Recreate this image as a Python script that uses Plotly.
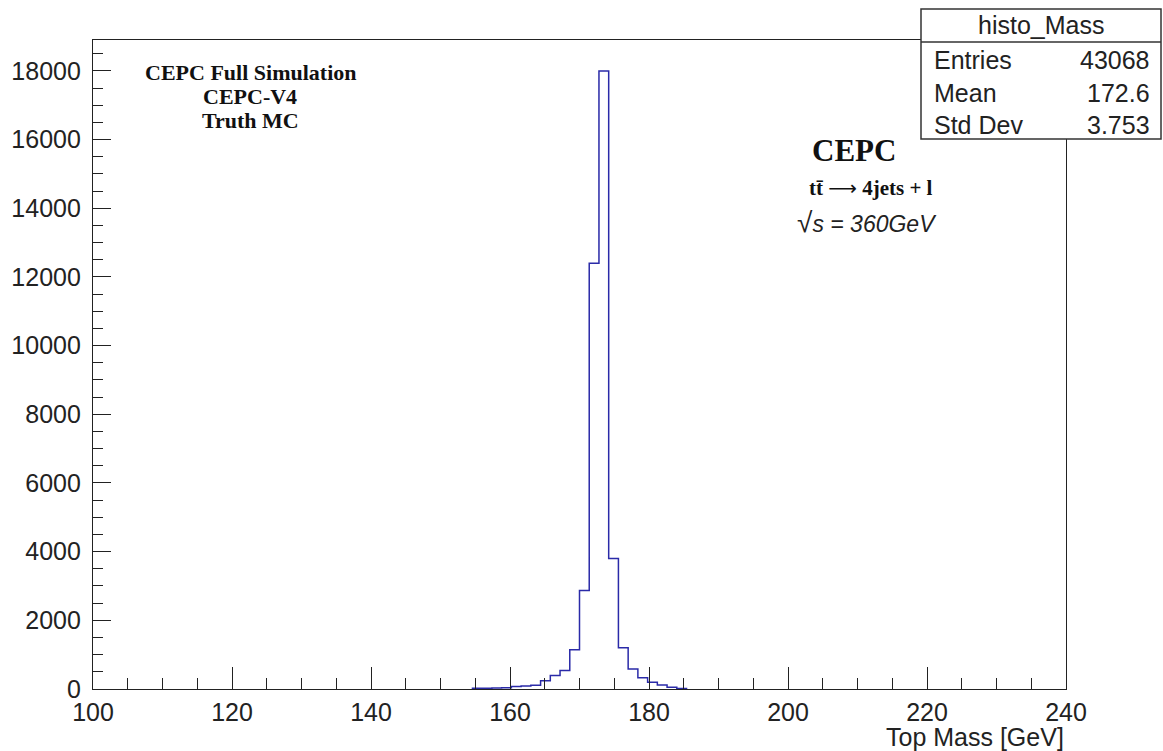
import plotly.graph_objects as go

# Histogram definition (ROOT TH1 with 100 bins over [100, 240])
x_min = 100.0
x_max = 240.0
n_bins = 100
first_bin = 39  # index of first non-empty bin
counts = [20, 25, 30, 40, 70, 85, 110, 240, 390, 540, 1140, 2870,
          12400, 18000, 3800, 1200, 580, 330, 200, 120, 50, 15]

stats_title = "histo_Mass"
stats_labels = ["Entries", "Mean", "Std Dev"]
stats_values = ["43068", "172.6", "3.753"]

x_title = "Top Mass [GeV]"
info_lines = ["CEPC Full Simulation", "CEPC-V4", "Truth MC"]

bw = (x_max - x_min) / n_bins
edges = [x_min + (first_bin + i) * bw for i in range(len(counts) + 1)]
xs = [edges[0]] + edges
ys = [0] + counts + [0]

W, H = 1163, 751
L, R, T, B = 93, 1066, 40, 689


def px(x):
    return (x - L) / (R - L)


def py(y):
    return (B - y) / (B - T)


fig = go.Figure()
fig.add_trace(go.Scatter(x=xs, y=ys, mode="lines", line=dict(shape="hv", color="#2a2aa8", width=1.5),
                         hoverinfo="skip", showlegend=False))

tickfont = dict(family="Liberation Sans, Arial, sans-serif", size=25, color="#222")

fig.update_layout(
    width=W, height=H,
    margin=dict(l=L, r=W - R, t=T, b=H - B),
    paper_bgcolor="white", plot_bgcolor="white",
    showlegend=False,
    xaxis=dict(range=[x_min, x_max], tick0=100, dtick=20, ticks="inside", ticklen=22, tickwidth=1,
               tickcolor="#222", showline=True, linecolor="#222", linewidth=1.2, mirror=True,
               showgrid=False, zeroline=False, tickfont=tickfont, ticklabelstandoff=1,
               minor=dict(dtick=5, ticks="inside", ticklen=11, tickcolor="#222", showgrid=False)),
    yaxis=dict(range=[0, 18900], tick0=0, dtick=2000, ticks="inside", ticklen=18, tickwidth=1,
               tickcolor="#222", showline=True, linecolor="#222", linewidth=1.2, mirror=True,
               showgrid=False, zeroline=False, tickfont=tickfont, ticklabelstandoff=6,
               tickformat="d",
               minor=dict(dtick=500, ticks="inside", ticklen=10, tickcolor="#222", showgrid=False)),
)

ann = []
# x axis title
ann.append(dict(x=px(1066), y=py(737), xref="paper", yref="paper", xanchor="right", yanchor="middle",
                text=x_title, showarrow=False,
                font=dict(family="Liberation Sans, Arial, sans-serif", size=25, color="#222")))

# top-left info text
serif = "Liberation Serif, Times New Roman, serif"
for txt, yy in zip(info_lines, [73, 97, 120]):
    ann.append(dict(x=px(250), y=py(yy), xref="paper", yref="paper", xanchor="center", yanchor="middle",
                    text="<b>" + txt + "</b>", showarrow=False,
                    font=dict(family=serif, size=22, color="#111")))

ann.append(dict(x=px(854), y=py(150), xref="paper", yref="paper", xanchor="center", yanchor="middle",
                text="<b>CEPC</b>", showarrow=False, font=dict(family=serif, size=31, color="#111")))
ann.append(dict(x=px(871), y=py(188), xref="paper", yref="paper", xanchor="center", yanchor="middle",
                text="<b>tt\u0304 </b><span style='font-family:DejaVu Sans;font-size:20px'>\u27f6</span><b> 4jets + l</b>",
                showarrow=False,
                font=dict(family=serif, size=21, color="#111")))
ann.append(dict(x=px(867), y=py(222), xref="paper", yref="paper", xanchor="center", yanchor="middle",
                text="<span style='font-size:28px'>\u221a</span><i>s = 360GeV</i>", showarrow=False,
                font=dict(family="Liberation Sans, Arial, sans-serif", size=23, color="#222")))

# stats box
box_l, box_r, box_t, box_sep, box_b = 921, 1161, 9, 42, 139
shapes = [
    dict(type="rect", xref="paper", yref="paper", x0=px(box_l), x1=px(box_r), y0=py(box_b), y1=py(box_t),
         fillcolor="white", line=dict(color="#333", width=1.5), layer="above"),
    dict(type="line", xref="paper", yref="paper", x0=px(box_l), x1=px(box_r), y0=py(box_sep), y1=py(box_sep),
         line=dict(color="#333", width=1.5), layer="above"),
]
sans = dict(family="Liberation Sans, Arial, sans-serif", size=25, color="#222")
ann.append(dict(x=px((box_l + box_r) / 2), y=py(25), xref="paper", yref="paper", xanchor="center",
                yanchor="middle", text=stats_title, showarrow=False, font=sans))
for lab, val, yy in zip(stats_labels, stats_values, [60, 93, 125]):
    ann.append(dict(x=px(932), y=py(yy), xref="paper", yref="paper", xanchor="left", yanchor="middle",
                    text=lab, showarrow=False, font=sans))
    ann.append(dict(x=px(1152), y=py(yy), xref="paper", yref="paper", xanchor="right", yanchor="middle",
                    text=val, showarrow=False, font=sans))

fig.update_layout(annotations=ann, shapes=shapes)
fig.write_html("out.html")
